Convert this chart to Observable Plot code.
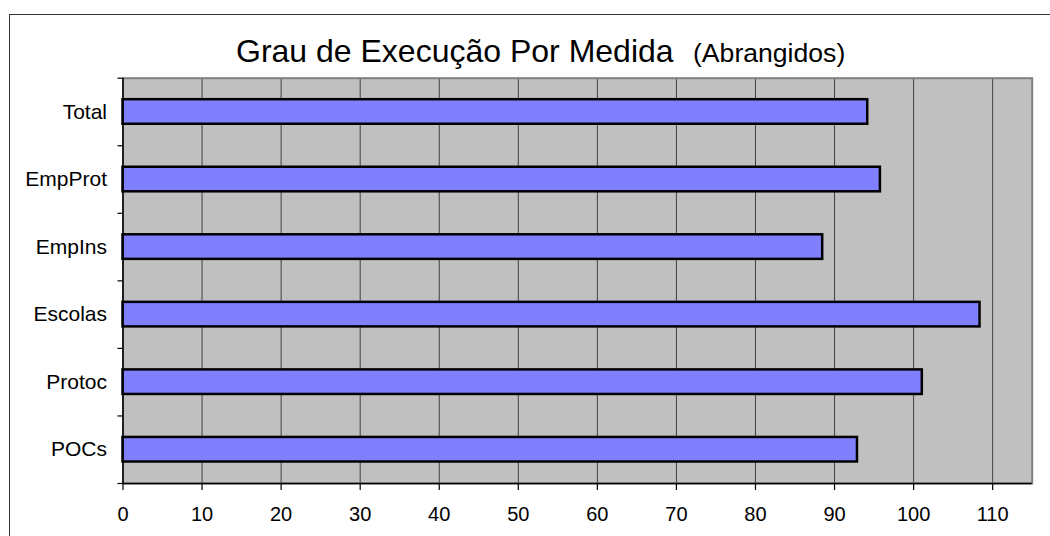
<!DOCTYPE html>
<html>
<head>
<meta charset="utf-8">
<script src="https://cdn.jsdelivr.net/npm/d3@7"></script>
<script src="https://cdn.jsdelivr.net/npm/@observablehq/plot@0.6"></script>
<style>
  html, body { margin: 0; padding: 0; background: #fff; }
  #wrap { position: relative; width: 1050px; height: 536px; overflow: hidden; font-family: "Liberation Sans", Arial, sans-serif; }
  #border { position: absolute; left: 9px; top: 14px; width: 1100px; height: 600px; border-top: 1.5px solid #333; border-left: 1.5px solid #333; }
  #title { position: absolute; left: 236px; top: 35px; font-size: 32px; line-height: 32px; white-space: nowrap; color: #000; }
  #subtitle { position: absolute; left: 693px; top: 40px; font-size: 26.6px; line-height: 26px; white-space: nowrap; color: #000; }
  #chart { position: absolute; left: 0; top: 0; }
</style>
</head>
<body>
<div id="wrap">
  <div id="border"></div>
  <div id="title"></div>
  <div id="subtitle"></div>
  <div id="chart"></div>
</div>
<script>
const titleText = "Grau de Execução Por Medida";
const subtitleText = "(Abrangidos)";
const categories = ["Total", "EmpProt", "EmpIns", "Escolas", "Protoc", "POCs"];
const values = [94.2, 95.8, 88.5, 108.4, 101.1, 92.9];
const xTicks = [0, 10, 20, 30, 40, 50, 60, 70, 80, 90, 100, 110];

document.getElementById("title").textContent = titleText;
document.getElementById("subtitle").textContent = subtitleText;

const n = categories.length;
const data = categories.map((c, i) => ({category: c, value: values[i], slot: n - 1 - i}));
const slotBounds = d3.range(0, n + 1);
const slotCenters = d3.range(0, n).map(k => k + 0.5);

const chart = Plot.plot({
  width: 1050,
  height: 536,
  marginLeft: 122.5,
  marginRight: 18.3,
  marginTop: 77.7,
  marginBottom: 53,
  style: {fontFamily: "'Liberation Sans', Arial, sans-serif", color: "#000", background: "transparent"},
  x: {domain: [0, 115]},
  y: {domain: [0, n]},
  marks: [
    Plot.frame({fill: "#c0c0c0", stroke: null}),
    Plot.gridX({ticks: xTicks, stroke: "#404040", strokeOpacity: 1, strokeWidth: 1}),
    Plot.frame({stroke: "#808080", strokeWidth: 2}),
    Plot.rectX(data, {
      x1: 0, x2: "value",
      y1: "slot", y2: d => d.slot + 1,
      insetTop: 21.5, insetBottom: 21.5,
      fill: "#8080ff", stroke: "#000", strokeWidth: 2.5
    }),
    Plot.ruleX([0], {stroke: "#000", strokeWidth: 1.5}),
    Plot.ruleY([0], {stroke: "#000", strokeWidth: 1.5}),
    Plot.axisX({ticks: xTicks, tickSize: 7, tickPadding: 16, fontSize: 20, tickFormat: d => String(d), label: null, strokeWidth: 1.2}),
    Plot.axisY({ticks: slotBounds, tickSize: 5, tickFormat: () => "", label: null, strokeWidth: 1.2}),
    Plot.axisY({ticks: slotCenters, tickSize: 0, tickPadding: 16, fontSize: 21, tickFormat: t => categories[Math.round(n - 0.5 - t)], label: null})
  ]
});
document.getElementById("chart").appendChild(chart);
</script>
</body>
</html>
